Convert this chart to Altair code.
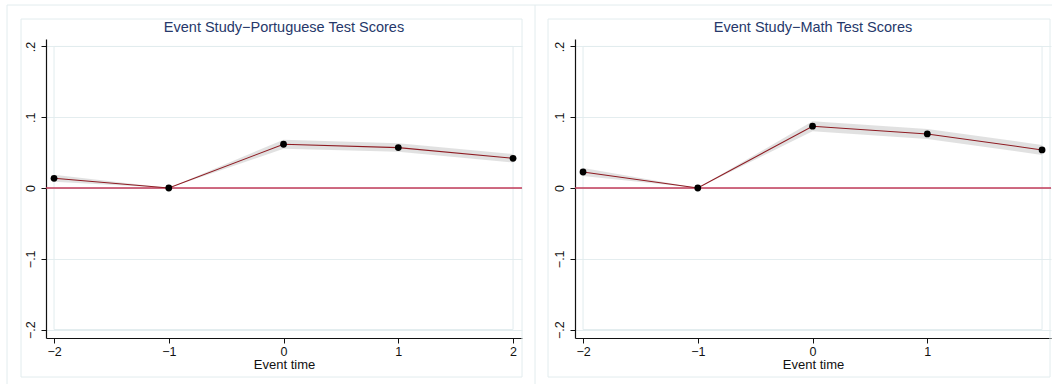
import altair as alt
import pandas as pd

# Event-study coefficients (relative to t = -1) and half-width of the confidence band
event_time = [-2, -1, 0, 1, 2]
port_coef = [0.0137, 0.0, 0.0618, 0.0571, 0.0420]
port_ci = [0.0050, 0.0, 0.0065, 0.0060, 0.0060]
math_coef = [0.0226, 0.0, 0.0873, 0.0764, 0.0538]
math_ci = [0.0055, 0.0, 0.0070, 0.0070, 0.0070]

y_ticks = [-0.2, -0.1, 0.0, 0.1, 0.2]
titles = ["Event Study\u2212Portuguese Test Scores", "Event Study\u2212Math Test Scores"]
x_ticks = [[-2, -1, 0, 1, 2], [-2, -1, 0, 1]]

FONT = "Liberation Sans"
W, H = 476, 299
X_DOM = [-2.07, 2.078]
Y_DOM = [-0.2119, 0.2105]
FRAME = "#e2ecee"


def panel(coef, ci, title, xt, frame_box):
    df = pd.DataFrame({
        "t": event_time,
        "b": coef,
        "lo": [c - h for c, h in zip(coef, ci)],
        "hi": [c + h for c, h in zip(coef, ci)],
    })
    one = alt.Data(values=[{"title": title}])
    xs = alt.Scale(domain=X_DOM, nice=False, zero=False)
    ys = alt.Scale(domain=Y_DOM, nice=False, zero=False)

    x_axis = alt.Axis(
        values=xt, title="Event time", grid=False, format="d",
        domainColor="#111111", domainWidth=1.2, tickColor="#111111", tickSize=5,
        labelFontSize=12.5, labelColor="#111111", labelPadding=2, labelFlush=False,
        titleFontSize=13, titleColor="#111111", titleFontWeight="normal", titlePadding=1,
        labelFont=FONT, titleFont=FONT,
    )
    y_axis = alt.Axis(
        values=y_ticks, title=None, grid=True, gridColor="#e4edef",
        domainColor="#111111", domainWidth=1.2, tickColor="#111111", tickSize=5,
        labelAngle=270, labelAlign="center", labelBaseline="alphabetic",
        labelPadding=7, labelFontSize=12.5, labelColor="#111111",
        labelFlush=False, labelOverlap=False, labelFont=FONT,
        labelExpr="datum.value == 0 ? '0' : (datum.value < 0 ? '\u2212' : '') + '.' + round(abs(datum.value) * 10)",
    )

    base = alt.Chart(df)

    # graph-region frames (outer top/left edges and inner box)
    ox, ox_end, oy_end, ix0, ix1 = frame_box
    outer_top = alt.Chart(one).mark_rule(color=FRAME, strokeWidth=1).encode(
        x=alt.value(ox), x2=alt.value(ox_end), y=alt.value(-34))
    outer_left = alt.Chart(one).mark_rule(color=FRAME, strokeWidth=1).encode(
        x=alt.value(ox), y=alt.value(-34), y2=alt.value(oy_end))
    inner_box = alt.Chart(one).mark_rect(fillOpacity=0, stroke=FRAME, strokeWidth=1).encode(
        x=alt.value(ix0), x2=alt.value(ix1), y=alt.value(-20), y2=alt.value(338))

    plot_frame = alt.Chart(one).mark_rect(fillOpacity=0, stroke=FRAME, strokeWidth=1).encode(
        x=alt.datum(-2, scale=xs), x2=alt.datum(2),
        y=alt.datum(-0.2, scale=ys), y2=alt.datum(0.2))

    # panel heading, centred over the plot area
    heading = alt.Chart(one).mark_text(
        font=FONT, fontSize=14.5, color="#26386a", align="center", baseline="alphabetic",
    ).encode(text="title:N", x=alt.value(W / 2), y=alt.value(-7))

    band = base.mark_area(color="#dcdcdc", opacity=0.85).encode(
        x=alt.X("t:Q", scale=xs, axis=x_axis),
        y=alt.Y("lo:Q", scale=ys, axis=y_axis),
        y2="hi:Q",
    )
    zero = alt.Chart(one).mark_rule(color="#c23a58", strokeWidth=1.3).encode(
        y=alt.datum(0, scale=ys))
    line = base.mark_line(color="#8e1b22", strokeWidth=1.1).encode(
        x=alt.X("t:Q", scale=xs), y=alt.Y("b:Q", scale=ys))
    pts = base.mark_circle(color="black", opacity=1, size=46).encode(
        x=alt.X("t:Q", scale=xs), y=alt.Y("b:Q", scale=ys))

    return alt.layer(
        outer_top, outer_left, inner_box, plot_frame, heading, band, zero, line, pts
    ).properties(width=W, height=H)


left = panel(port_coef, port_ci, titles[0], x_ticks[0], (-39, 489, 345, -25, 476))
right = panel(math_coef, math_ci, titles[1], x_ticks[1], (-40, 477, 345, -27, 475))

chart = alt.hconcat(left, right, spacing=53, bounds="flush").properties(
    padding={"left": 6, "top": 4, "right": 0, "bottom": 0},
    background="white",
).configure_view(stroke=None)

chart.save("out.html", embed_options={"renderer": "svg", "actions": False})
